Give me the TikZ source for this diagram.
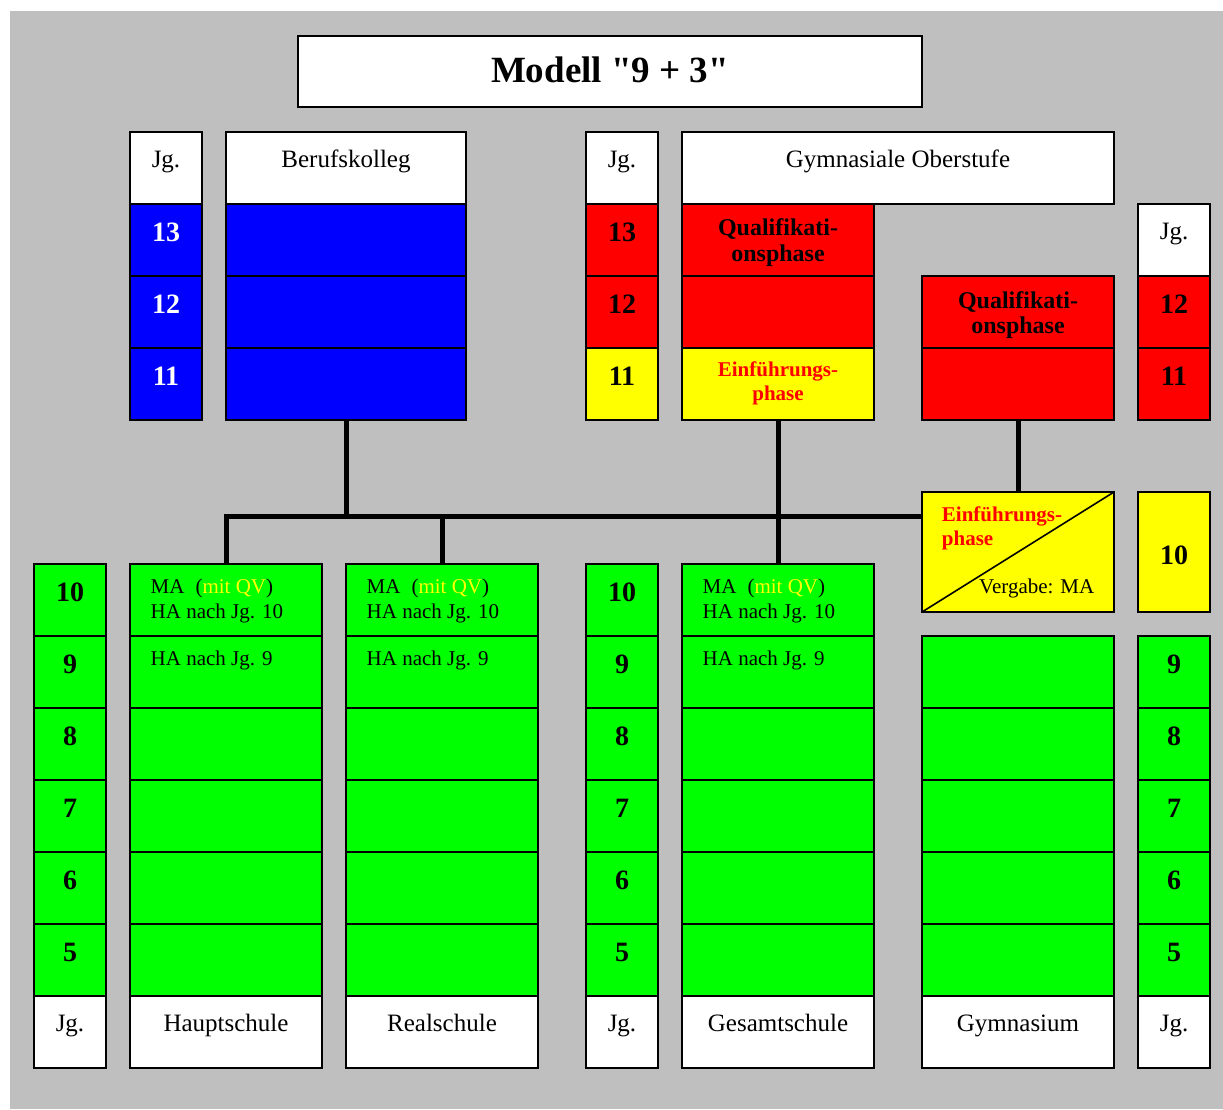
\documentclass[tikz,border=0pt]{standalone}
\usepackage{fontspec}
\setmainfont{Liberation Serif}
\newfontfamily\titleserif{Liberation Serif}[Ligatures=TeXOff]
\definecolor{bg}{RGB}{191,191,191}
\definecolor{cblue}{RGB}{0,0,255}
\definecolor{cred}{RGB}{255,0,0}
\definecolor{cyel}{RGB}{255,255,0}
\definecolor{cgreen}{RGB}{0,255,0}
\tikzset{
  cellbox/.style={draw=black, line width=1.6pt, inner sep=0pt, outer sep=0pt, rectangle},
  regtxt/.style={font=\fontsize{25}{30}\selectfont, inner sep=0pt, anchor=base},
  numtxt/.style={font=\fontsize{28}{32}\selectfont\bfseries, inner sep=0pt, anchor=base},
  titletxt/.style={font=\titleserif\fontsize{37}{42}\selectfont\bfseries, inner sep=0pt, anchor=base},
  smalltxt/.style={font=\fontsize{21}{25}\selectfont, inner sep=0pt, anchor=base west},
  qualtxt/.style={font=\fontsize{24}{28}\selectfont\bfseries, inner sep=0pt, anchor=base},
  einftxt/.style={font=\fontsize{21}{25}\selectfont\bfseries, text=cred, inner sep=0pt, anchor=base},
  conn/.style={line width=5pt}
}
\newcommand\cellat[6]{\node[cellbox,fill=#6,minimum width=#4,minimum height=#5] (#1) at ({#2+#4/2},{#3+#5/2}) {};}
\begin{document}
\begin{tikzpicture}[x=1pt,y=-1pt]
\useasboundingbox (0,0) rectangle (1223,1109);
\fill[bg] (10,11) rectangle (1223,1109);

% title
\cellat{titlebox}{298}{36}{624}{71}{white}
\node[titletxt] (titleT) at ([yshift=-46pt]titlebox.north) {Modell "9 + 3"};

% ---------- upper part ----------
\cellat{jgA}{130}{132}{72}{72}{white}
\cellat{a13}{130}{204}{72}{72}{cblue}
\cellat{a12}{130}{276}{72}{72}{cblue}
\cellat{a11}{130}{348}{72}{72}{cblue}
\node[regtxt] (jgAt) at ([yshift=-35pt]jgA.north) {Jg.};
\foreach \n in {13,12,11}{\node[numtxt,text=white] (a\n t) at ([yshift=-37.5pt]a\n.north) {\n};}

\cellat{bk}{226}{132}{240}{72}{white}
\cellat{bk1}{226}{204}{240}{72}{cblue}
\cellat{bk2}{226}{276}{240}{72}{cblue}
\cellat{bk3}{226}{348}{240}{72}{cblue}
\node[regtxt] (bkt) at ([yshift=-35pt]bk.north) {Berufskolleg};

\cellat{jgB}{586}{132}{72}{72}{white}
\cellat{b13}{586}{204}{72}{72}{cred}
\cellat{b12}{586}{276}{72}{72}{cred}
\cellat{b11}{586}{348}{72}{72}{cyel}
\node[regtxt] (jgBt) at ([yshift=-35pt]jgB.north) {Jg.};
\foreach \n in {13,12,11}{\node[numtxt] (b\n t) at ([yshift=-37.5pt]b\n.north) {\n};}

\cellat{go}{682}{132}{432}{72}{white}
\node[regtxt] (got) at ([yshift=-35pt]go.north) {Gymnasiale Oberstufe};

\cellat{q1}{682}{204}{192}{72}{cred}
\cellat{q2}{682}{276}{192}{72}{cred}
\cellat{ef}{682}{348}{192}{72}{cyel}
\node[qualtxt] (q1a) at ([yshift=-31.5pt]q1.north) {Qualifikati-};
\node[qualtxt] (q1b) at ([yshift=-57pt]q1.north) {onsphase};
\node[einftxt] (efa) at ([yshift=-28.7pt]ef.north) {Einführungs-};
\node[einftxt] (efb) at ([yshift=-52pt]ef.north) {phase};

\cellat{r1}{922}{276}{192}{72}{cred}
\cellat{r2}{922}{348}{192}{72}{cred}
\node[qualtxt] (r1a) at ([yshift=-32pt]r1.north) {Qualifikati-};
\node[qualtxt] (r1b) at ([yshift=-57.3pt]r1.north) {onsphase};

\cellat{jgC}{1138}{204}{72}{72}{white}
\cellat{c12}{1138}{276}{72}{72}{cred}
\cellat{c11}{1138}{348}{72}{72}{cred}
\node[regtxt] (jgCt) at ([yshift=-35pt]jgC.north) {Jg.};
\foreach \n in {12,11}{\node[numtxt] (c\n t) at ([yshift=-37.5pt]c\n.north) {\n};}

% ---------- middle ----------
\cellat{diag}{922}{492}{192}{120}{cyel}
\draw[line width=1.6pt] (diag.south west) -- (diag.north east);
\node[einftxt,anchor=base west] (diaga) at ([xshift=19.7pt,yshift=-29.7pt]diag.north west) {Einführungs-};
\node[einftxt,anchor=base west] (diagb) at ([xshift=19.7pt,yshift=-53pt]diag.north west) {phase};
\node[smalltxt] (diagc) at ([xshift=57pt,yshift=-101.3pt]diag.north west) {Vergabe: MA};

\cellat{c10}{1138}{492}{72}{120}{cyel}
\node[numtxt] (c10t) at ([yshift=-72pt]c10.north) {10};

% ---------- lower part ----------
\foreach \n/\i in {10/0,9/1,8/2,7/3,6/4,5/5}{
  \cellat{lj\n}{34}{564+72*\i}{72}{72}{cgreen}
  \cellat{hs\n}{130}{564+72*\i}{192}{72}{cgreen}
  \cellat{rs\n}{346}{564+72*\i}{192}{72}{cgreen}
  \cellat{mj\n}{586}{564+72*\i}{72}{72}{cgreen}
  \cellat{gs\n}{682}{564+72*\i}{192}{72}{cgreen}
  \node[numtxt] (lj\n t) at ([yshift=-37.5pt]lj\n.north) {\n};
  \node[numtxt] (mj\n t) at ([yshift=-37.5pt]mj\n.north) {\n};
}
\foreach \n/\i in {9/1,8/2,7/3,6/4,5/5}{
  \cellat{gy\n}{922}{564+72*\i}{192}{72}{cgreen}
  \cellat{rj\n}{1138}{564+72*\i}{72}{72}{cgreen}
  \node[numtxt] (rj\n t) at ([yshift=-37.5pt]rj\n.north) {\n};
}
\cellat{ljJ}{34}{996}{72}{72}{white}
\cellat{hsL}{130}{996}{192}{72}{white}
\cellat{rsL}{346}{996}{192}{72}{white}
\cellat{mjJ}{586}{996}{72}{72}{white}
\cellat{gsL}{682}{996}{192}{72}{white}
\cellat{gyL}{922}{996}{192}{72}{white}
\cellat{rjJ}{1138}{996}{72}{72}{white}
\node[regtxt] (ljJt) at ([yshift=-35pt]ljJ.north) {Jg.};
\node[regtxt] (hsLt) at ([yshift=-35pt]hsL.north) {Hauptschule};
\node[regtxt] (rsLt) at ([yshift=-35pt]rsL.north) {Realschule};
\node[regtxt] (mjJt) at ([yshift=-35pt]mjJ.north) {Jg.};
\node[regtxt] (gsLt) at ([yshift=-35pt]gsL.north) {Gesamtschule};
\node[regtxt] (gyLt) at ([yshift=-35pt]gyL.north) {Gymnasium};
\node[regtxt] (rjJt) at ([yshift=-35pt]rjJ.north) {Jg.};

\foreach \s in {hs,rs,gs}{
  \node[smalltxt] (\s10a) at ([xshift=20.5pt,yshift=-29.3pt]\s10.north west) {MA\hspace{11pt}(\textcolor{cyel}{mit QV})};
  \node[smalltxt] (\s10b) at ([xshift=20.5pt,yshift=-54.3pt]\s10.north west) {HA nach Jg. 10};
  \node[smalltxt] (\s9a) at ([xshift=20.5pt,yshift=-29pt]\s9.north west) {HA nach Jg. 9};
}

% ---------- connectors ----------
\coordinate (hR) at (922,516);
\draw[conn] (bk3.south) -- (bk3.south |- hR);
\draw[conn] (hs10.north) |- (hR);
\draw[conn] (rs10.north) -- (rs10.north |- hR);
\draw[conn] (ef.south) -- (gs10.north);
\draw[conn] (r2.south) -- (diag.north);
\end{tikzpicture}
\end{document}
